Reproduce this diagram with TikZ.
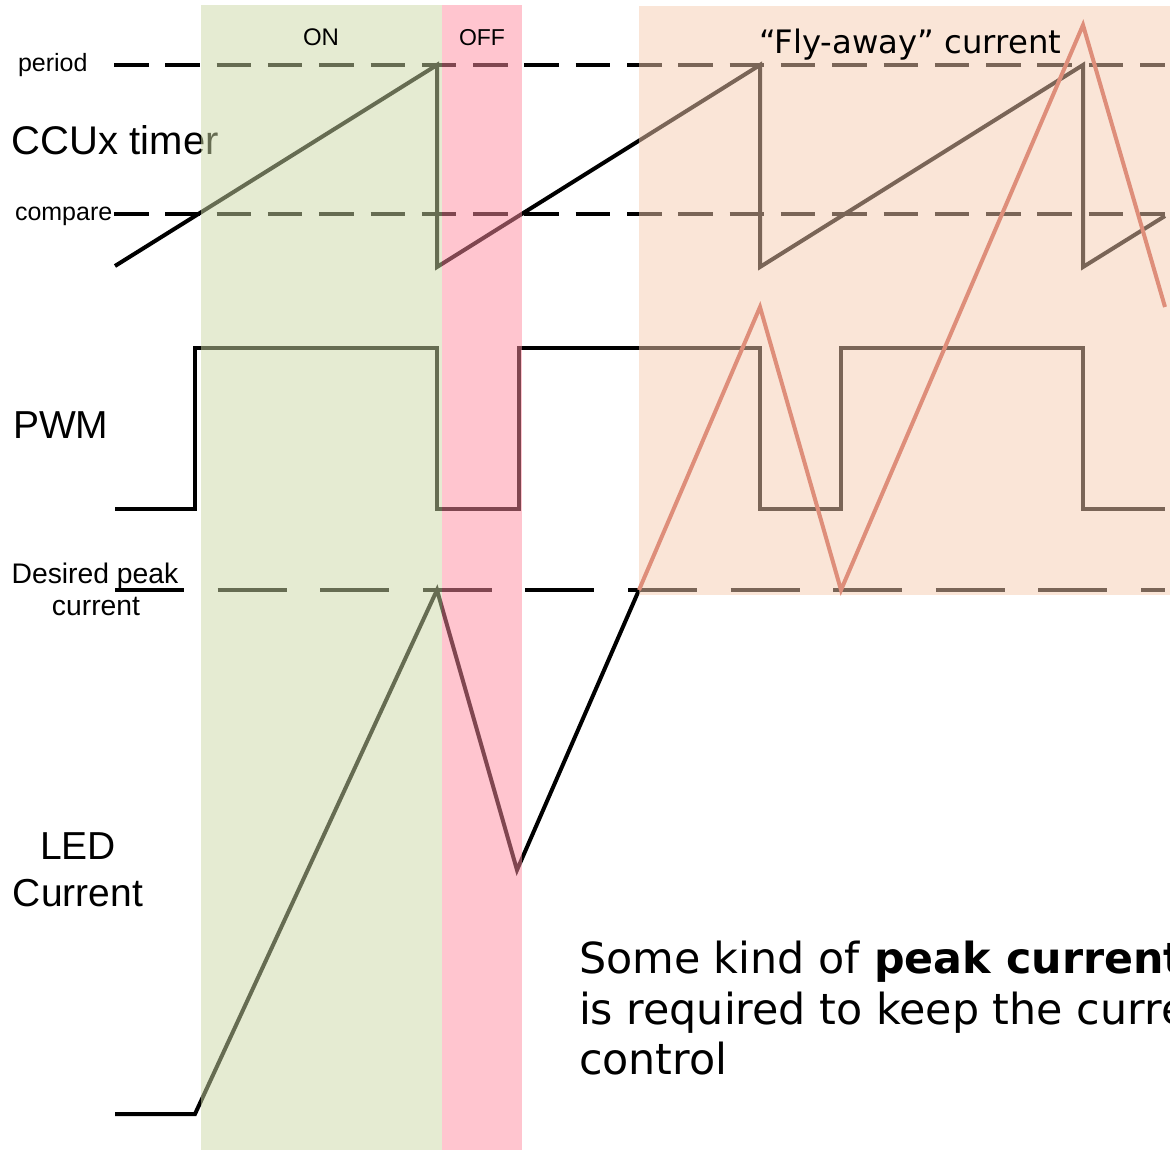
\documentclass[tikz,border=0pt]{standalone}
\usepackage{fontspec}
\setmainfont{Liberation Sans}
\newfontfamily\vfont{DejaVu Sans}
\definecolor{onbox}{RGB}{204,216,165}
\definecolor{offbox}{RGB}{255,140,160}
\definecolor{flybox}{RGB}{245,203,175}
\definecolor{flyline}{RGB}{222,142,122}
\begin{document}
\begin{tikzpicture}[x=1pt,y=-1pt,line width=4pt,
		lbl/.style={inner sep=0pt,anchor=base west},
		shortdash/.style={dash pattern=on 34.5pt off 16.8pt},
		longdash/.style={dash pattern=on 69pt off 33.6pt},
		shade/.style={draw=none,fill opacity=0.5}]
	\useasboundingbox (0,0) rectangle (1170,1150);
	\clip (0,0) rectangle (1170,1150);
	% levels
	\draw[shortdash] (114,65)--(1165,65);
	\draw[shortdash] (114,214)--(1165,214);
	\draw[longdash] (115,590)--(1165,590);
	% timer, PWM and LED current
	\draw (115,266)--(437,65)--(437,267)--(760,65)--(760,267)--(1083,65)--(1083,267)--(1165,216);
	\draw (115,509)-|(195,348)-|(437,509)-|(519,348)-|(760,509)-|(841,348)-|(1083,509)--(1165,509);
	\draw (115,1114)--(195,1114)--(437,590)--(517,870)--(639,590);
	% signal names
	\node[lbl,font=\fontsize{25}{30}\selectfont] (periodlbl) at (16,72) {period};
	\node[lbl,font=\fontsize{40}{48}\selectfont] (timerlbl) at (10,155) {CCUx timer};
	\node[lbl,font=\fontsize{25}{30}\selectfont] (comparelbl) at (13,221) {compare};
	\node[lbl,font=\fontsize{39}{48}\selectfont] (pwmlbl) at (11,438) {PWM};
	\node[lbl,anchor=base,font=\fontsize{28.3}{32}\selectfont] (peaklbl) at (95,583) {Desired peak};
	\node[lbl,anchor=base,font=\fontsize{28.3}{32}\selectfont] (peaklbl2) at (96,615) {current};
	\node[lbl,anchor=base,font=\fontsize{39}{48}\selectfont] (ledlbl) at (78,859) {LED};
	\node[lbl,anchor=base,font=\fontsize{39}{48}\selectfont] (ledlbl2) at (78,906) {Current};
	% on / off / fly-away areas
	\fill[shade,onbox] (201,5) rectangle (442,1150);
	\fill[shade,offbox] (442,5) rectangle (522,1150);
	\fill[shade,flybox] (639,6) rectangle (1170,595);
	\node[lbl,anchor=base,font=\fontsize{24}{28}\selectfont] (onlbl) at (321,46) {ON};
	\node[lbl,anchor=base,font=\fontsize{23}{28}\selectfont] (offlbl) at (482,46) {OFF};
	\draw[flyline] (639,590)--(760,307)--(841,590)--(1083,25)--(1165,307);
	\node[lbl,font=\vfont\fontsize{32.3}{38}\selectfont] (flylbl) at (757,54) {“Fly-away” current};
	\node[lbl,font=\vfont\fontsize{42.8}{50}\selectfont] (note1) at (577,973) {Some kind of \textbf{peak current}};
	\node[lbl,font=\vfont\fontsize{42.8}{50}\selectfont] (note2) at (577,1024) {is required to keep the current};
	\node[lbl,font=\vfont\fontsize{42.8}{50}\selectfont] (note3) at (577,1074) {control};
\end{tikzpicture}
\end{document}
